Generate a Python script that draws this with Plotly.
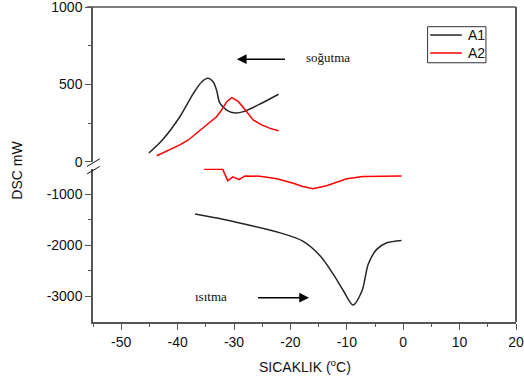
import plotly.graph_objects as go

# Cooling (soğutma) curves - upper axis
a1_cool_x = [-45.1, -42.7, -39.6, -37.2, -35.7, -34.6, -33.7, -33.1, -32.5, -31.3, -29.8, -28.3, -25.7, -22.1]
a1_cool_y = [58, 142, 292, 443, 518, 540, 518, 465, 379, 335, 316, 325, 368, 437]
a2_cool_x = [-43.7, -41.5, -39.6, -38.1, -36.0, -34.8, -33.1, -32.2, -31.3, -30.4, -29.2, -28.0, -26.6, -25.1, -23.6, -22.1]
a2_cool_y = [40, 75, 110, 142, 206, 239, 292, 335, 389, 415, 389, 335, 271, 239, 217, 202]

# Heating (ısıtma) curves - lower axis
a1_heat_x = [-36.9, -32.0, -27.8, -21.8, -17.8, -14.7, -12.4, -10.6, -8.9, -7.3, -6.2, -4.7, -2.9, -0.3]
a1_heat_y = [-1388, -1490, -1594, -1757, -1918, -2210, -2565, -2889, -3167, -2889, -2371, -2080, -1951, -1905]
a2_heat_x = [-35.3, -32.0, -31.1, -30.2, -29.1, -28.1, -25.4, -22.4, -19.5, -17.8, -16.0, -13.6, -10.0, -7.1, -0.3]
a2_heat_y = [-515, -515, -740, -662, -715, -643, -650, -700, -786, -850, -895, -837, -700, -656, -643]

x_ticks = [-50, -40, -30, -20, -10, 0, 10, 20]
x_labels = ["-50", "-40", "-30", "-20", "-10", "0", "10", "20"]
upper_ticks = [0, 500, 1000]
upper_labels = ["0", "500", "1000"]
lower_ticks = [-3000, -2000, -1000]
lower_labels = ["-3000", "-2000", "-1000"]
series_names = ["A1", "A2"]

BLACK = "#262626"
RED = "#ff0000"
AX = "#555555"
FONT = "Arial, Liberation Sans, sans-serif"
SERIF = "Liberation Serif, Times New Roman, serif"
colors = [BLACK, RED]

fig = go.Figure()
fig.add_trace(go.Scatter(x=a1_cool_x, y=a1_cool_y, mode="lines", line=dict(color=BLACK, width=1.5, shape="spline", smoothing=0.8),
                         name="A1", yaxis="y2", showlegend=False))
fig.add_trace(go.Scatter(x=a2_cool_x, y=a2_cool_y, mode="lines", line=dict(color=RED, width=1.5),
                         name="A2", yaxis="y2", showlegend=False))
fig.add_trace(go.Scatter(x=a1_heat_x, y=a1_heat_y, mode="lines", line=dict(color=BLACK, width=1.5, shape="spline", smoothing=0.8),
                         name="A1", yaxis="y", showlegend=False))
fig.add_trace(go.Scatter(x=a2_heat_x, y=a2_heat_y, mode="lines", line=dict(color=RED, width=1.5),
                         name="A2", yaxis="y", showlegend=False))

axis_common = dict(showgrid=False, zeroline=False, showline=True, linecolor=AX, linewidth=1.5,
                   ticks="outside", ticklen=6, tickwidth=1, tickcolor=AX, automargin=False,
                   ticklabeloverflow="allow",
                   tickfont=dict(family=FONT, size=14, color="#111"))

fig.update_layout(
    width=524, height=382,
    margin=dict(l=93, r=8, t=7, b=60, autoexpand=False),
    plot_bgcolor="white", paper_bgcolor="white",
    font=dict(family=FONT, size=14, color="#111"),
    xaxis=dict(range=[-55, 20], tickvals=x_ticks, ticktext=x_labels, anchor="y",
               minor=dict(dtick=5, tick0=-55, ticks="outside", ticklen=3, tickcolor=AX),
               **axis_common),
    yaxis=dict(range=[-3500, -500], domain=[0, 0.487], tickvals=lower_ticks, ticktext=lower_labels, anchor="x",
               minor=dict(tickvals=[-2500, -1500], ticks="outside", ticklen=3, tickcolor=AX),
               **axis_common),
    yaxis2=dict(range=[0, 1000], domain=[0.508, 1], tickvals=upper_ticks, ticktext=upper_labels, anchor="x",
                minor=dict(tickvals=[250, 750], ticks="outside", ticklen=3, tickcolor=AX),
                **axis_common),
    showlegend=False,
)

# frame: top and right borders
fig.add_shape(type="line", xref="paper", yref="paper", x0=-0.014, x1=1, y0=1, y1=1,
              line=dict(color=AX, width=1.5))
fig.add_shape(type="line", xref="paper", yref="paper", x0=1, x1=1, y0=0, y1=1,
              line=dict(color=AX, width=2))
# axis break marks
for yb in [0.506, 0.482]:
    fig.add_shape(type="line", xref="paper", yref="paper", x0=-0.014, x1=0.016,
                  y0=yb - 0.012, y1=yb + 0.012, line=dict(color="#111", width=1))

# legend box (drawn to match the compact original)
fig.add_shape(type="rect", xref="paper", yref="paper", x0=0.791, x1=0.929, y0=0.823, y1=0.9375,
              line=dict(color="#333", width=1), fillcolor="white", layer="above")
for i, (nm, col) in enumerate(zip(series_names, colors)):
    yy = 0.911 - 0.057 * i
    fig.add_shape(type="line", xref="paper", yref="paper", x0=0.797, x1=0.872, y0=yy, y1=yy,
                  line=dict(color=col, width=1.5), layer="above")
    fig.add_annotation(text=nm, xref="paper", yref="paper", x=0.881, y=yy,
                       xanchor="left", yanchor="middle", showarrow=False,
                       font=dict(family=FONT, size=14, color="#111"))

# titles
fig.add_annotation(text="DSC mW", xref="paper", yref="paper", x=-0.18, y=0.483,
                   xanchor="center", yanchor="middle",
                   textangle=-90, showarrow=False, font=dict(family=FONT, size=14, color="#111"))
fig.add_annotation(text="SICAKLIK (<sup>o</sup>C)", xref="paper", yref="paper", x=0.5, y=-0.14,
                   xanchor="center", yanchor="middle",
                   showarrow=False, font=dict(family=FONT, size=14, color="#111"))

# soğutma arrow and label
fig.add_annotation(x=-29.5, y=663, ax=-20.7, ay=663, xref="x", yref="y2", axref="x", ayref="y2",
                   text="", showarrow=True, arrowhead=2, arrowsize=1.3, arrowwidth=1.5, arrowcolor="#000")
fig.add_annotation(x=-13.3, y=677, xref="x", yref="y2", text="soğutma", showarrow=False,
                   font=dict(family=SERIF, size=13, color="#111"))
# ısıtma arrow and label
fig.add_annotation(x=-16.7, y=-3025, ax=-26.0, ay=-3025, xref="x", yref="y", axref="x", ayref="y",
                   text="", showarrow=True, arrowhead=2, arrowsize=1.3, arrowwidth=1.5, arrowcolor="#000")
fig.add_annotation(x=-34.0, y=-3006, xref="x", yref="y", text="ısıtma", showarrow=False,
                   font=dict(family=SERIF, size=13, color="#111"))

fig.write_html("out.html", config={"displayModeBar": False},
               post_script="document.body.style.margin='0';")
